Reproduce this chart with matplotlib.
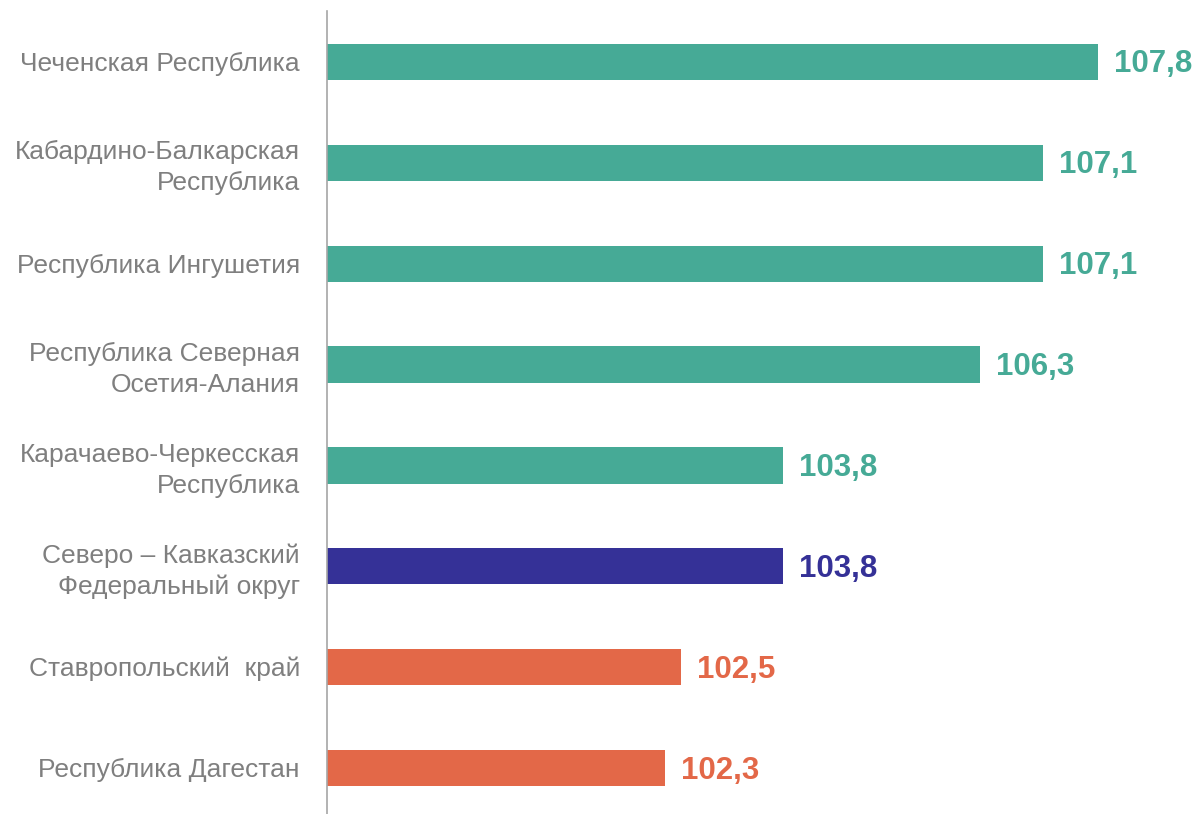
import matplotlib
matplotlib.use("Agg")
import matplotlib.pyplot as plt
from matplotlib.transforms import ScaledTranslation

categories = ["Чеченская Республика", "Кабардино-Балкарская\nРеспублика", "Республика Ингушетия",
              "Республика Северная\nОсетия-Алания", "Карачаево-Черкесская\nРеспублика",
              "Северо – Кавказский\nФедеральный округ", "Ставропольский  край", "Республика Дагестан"]
values = [107.8, 107.1, 107.1, 106.3, 103.8, 103.8, 102.5, 102.3]
labels = ["107,8", "107,1", "107,1", "106,3", "103,8", "103,8", "102,5", "102,3"]
teal, navy, orange = "#46AA96", "#353197", "#E36848"
colors = [teal, teal, teal, teal, teal, navy, orange, orange]

plt.rcParams['font.family'] = ['Liberation Sans', 'DejaVu Sans']
fig = plt.figure(figsize=(11.96, 8.14), dpi=100)
ax = fig.add_axes([327/1196, 0, 1 - 327/1196, (814 - 11)/814])
base = 98.0
ys = list(range(len(values)))
ax.barh(ys, [v - base for v in values], left=base, height=0.36, color=colors)
ax.set_xlim(base, base + (1196 - 327)/78.7)
ax.set_ylim(7.455, -0.505)
vshift = ax.transData + ScaledTranslation(0, -2.5/100, fig.dpi_scale_trans)
for y, v, l, c in zip(ys, values, labels, colors):
    ax.text(v + 0.2, y, l, color=c, fontsize=22.5, fontweight='bold', va='center', ha='left',
            transform=vshift)
for y, cat in zip(ys, categories):
    dy = -5 if "\n" in cat else -2
    lab_tr = ax.get_yaxis_transform() + ScaledTranslation(-27/100, dy/100, fig.dpi_scale_trans)
    ax.text(0, y, cat, transform=lab_tr, fontsize=19, color="#7F7F7F", ha='right', va='center',
            linespacing=1.37, multialignment='right')
ax.set_yticks([])
ax.set_xticks([])
for s in ['top', 'right', 'bottom']:
    ax.spines[s].set_visible(False)
ax.spines['left'].set_color('#A6A6A6')
ax.spines['left'].set_linewidth(1.2)
fig.savefig("out.png", dpi=100)
